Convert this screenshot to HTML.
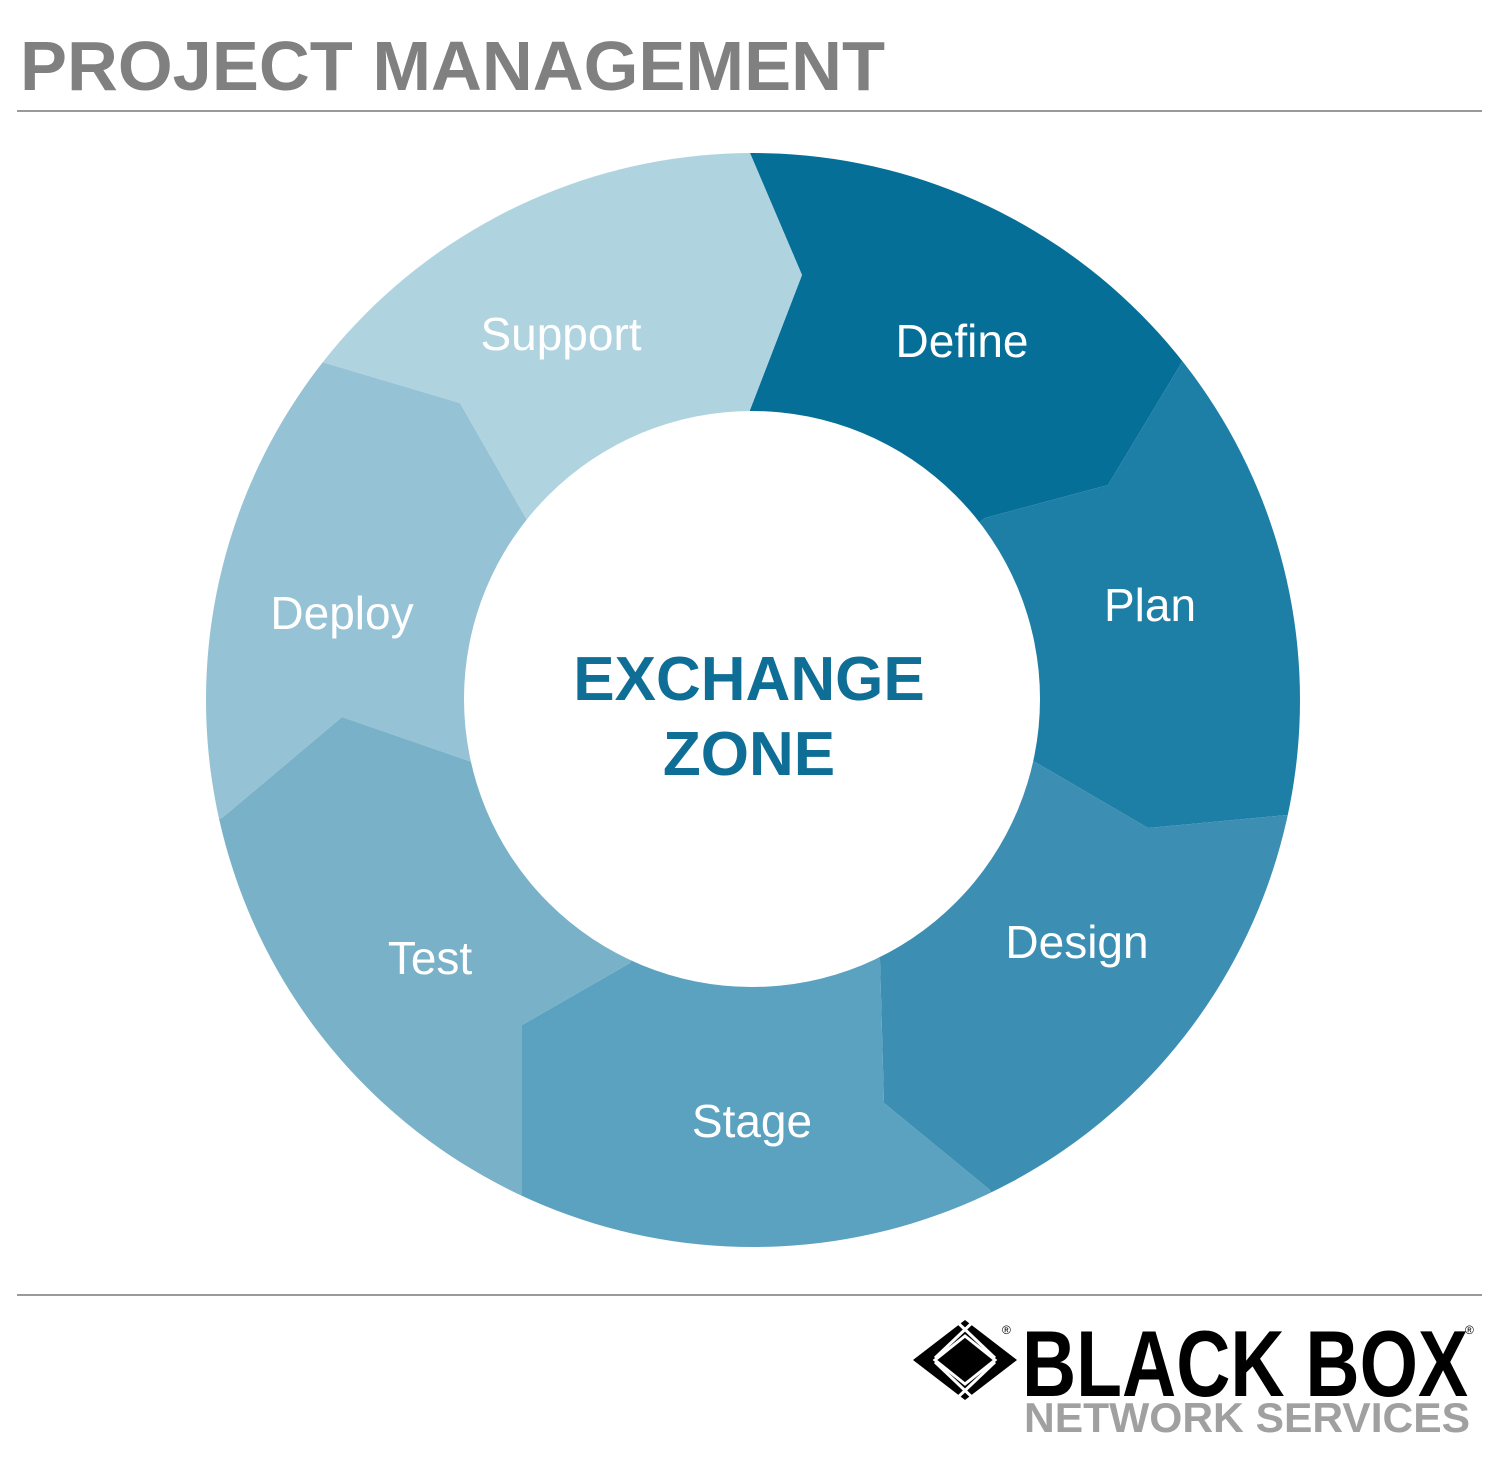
<!DOCTYPE html>
<html><head><style>html,body{margin:0;padding:0;background:#fff;overflow:hidden;width:1512px;height:1464px}svg{display:block}</style></head>
<body>
<svg width="1512" height="1464" viewBox="0 0 1512 1464" xmlns="http://www.w3.org/2000/svg" font-family="Liberation Sans, Arial, sans-serif">
<text x="20" y="90" font-size="70" font-weight="bold" fill="#808080" textLength="865" lengthAdjust="spacingAndGlyphs">PROJECT MANAGEMENT</text>
<rect x="17" y="110" width="1465" height="2" fill="#9a9a9a"/>
<rect x="17" y="1294" width="1465" height="2" fill="#9a9a9a"/>
<defs><clipPath id="c"><circle cx="753" cy="700" r="547"/></clipPath></defs>
<g clip-path="url(#c)">
<polygon fill="#056f97" points="753,700 750,410 802,275 750,153 747,-394 1611,24 1182,362 1108,485 985,518"/>
<polygon fill="#1e7fa6" points="753,700 985,518 1108,485 1182,362 1611,24 1821,930 1287,815 1148,828 1035,762"/>
<polygon fill="#3c8fb3" points="753,700 1035,762 1148,828 1287,815 1821,930 1227,1680 990,1190 884,1103 880,960"/>
<polygon fill="#5aa2c0" points="753,700 880,960 884,1103 990,1190 1227,1680 291,1686 522,1193 522,1025 630,963"/>
<polygon fill="#79b1c8" points="753,700 630,963 522,1025 522,1193 291,1686 -309,936 222,818 342,717 472,762"/>
<polygon fill="#95c2d5" points="753,700 472,762 342,717 222,818 -309,936 -109,24 322,362 460,403 527,520"/>
<polygon fill="#b0d3e0" points="753,700 527,520 460,403 322,362 -109,24 747,-394 750,153 802,275 750,410"/>
</g>
<circle cx="752" cy="699" r="288" fill="#fff"/>
<g fill="#fff" font-size="46" text-anchor="middle">
<text x="561" y="350">Support</text>
<text x="962" y="357">Define</text>
<text x="1150" y="621">Plan</text>
<text x="342" y="629">Deploy</text>
<text x="1077" y="958">Design</text>
<text x="430" y="974">Test</text>
<text x="752" y="1137">Stage</text>
</g>
<g fill="#0e6e96" font-size="62" font-weight="bold" text-anchor="middle">
<text x="749" y="700">EXCHANGE</text>
<text x="749" y="775">ZONE</text>
</g>
<g transform="translate(965,1360)">
<polygon points="0,-40 52,0 0,40 -52,0" fill="#000"/>
<polygon points="0,-24 30,0 0,24 -30,0" fill="none" stroke="#fff" stroke-width="3"/>
<line x1="-10" y1="-40" x2="30" y2="-2" stroke="#fff" stroke-width="3"/>
<line x1="10" y1="-40" x2="-30" y2="-2" stroke="#fff" stroke-width="3"/>
<line x1="-10" y1="40" x2="30" y2="2" stroke="#fff" stroke-width="3"/>
<line x1="10" y1="40" x2="-30" y2="2" stroke="#fff" stroke-width="3"/>
</g>
<text x="1002" y="1334" font-size="12" fill="#000">®</text>
<text x="1465" y="1334" font-size="12" fill="#000">®</text>
<text x="1022" y="1396" font-size="94" font-weight="bold" fill="#000" textLength="446" lengthAdjust="spacingAndGlyphs">BLACK BOX</text>
<text x="1024" y="1432" font-size="42" font-weight="bold" fill="#a0a0a0" textLength="446" lengthAdjust="spacingAndGlyphs">NETWORK SERVICES</text>
</svg>
</body></html>
